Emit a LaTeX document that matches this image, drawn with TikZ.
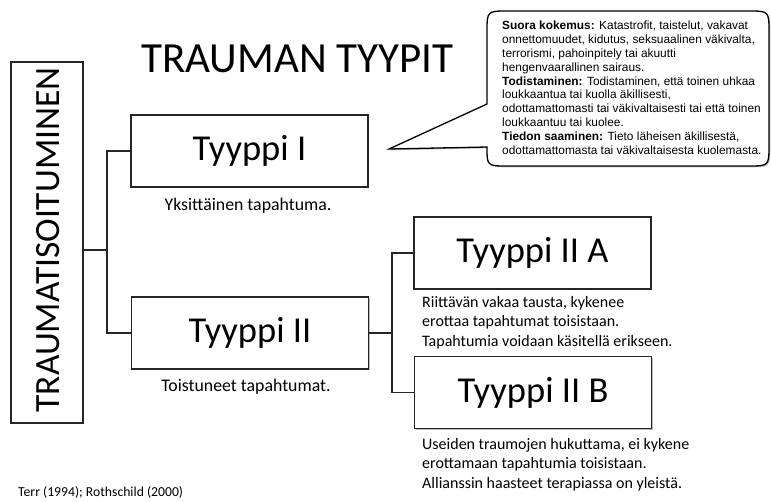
\documentclass[tikz,border=0pt]{standalone}
\usepackage{fontspec}
\setmainfont{Carlito}
\newfontfamily\calloutfont{Liberation Sans}
\usetikzlibrary{shadows}
\tikzset{
  typebox/.style={draw=black!85, line width=1.2pt, fill=white, inner sep=0pt,
    minimum width=237pt, minimum height=72pt, font=\fontsize{36.5}{40}\selectfont,
    drop shadow={shadow xshift=1.3pt, shadow yshift=-1.3pt, fill=black!45, opacity=0.6}},
  note/.style={inner sep=0pt, font=\fontsize{16}{19.5}\selectfont, align=left},
  bignote/.style={inner sep=0pt, font=\fontsize{17.8}{20}\selectfont},
  conn/.style={draw=black!85, line width=1.1pt},
}
\begin{document}
\begin{tikzpicture}[x=1pt,y=-1pt]
\useasboundingbox[fill=white] (0,0) rectangle (771,501);
% title
\node[anchor=west, inner sep=0pt, font=\fontsize{43}{46}\selectfont] (title) at (141,59) {TRAUMAN TYYPIT};
% left vertical box
\node[draw=black!85, line width=1.2pt, fill=white, inner sep=0pt, minimum width=72pt, minimum height=361pt,
  drop shadow={shadow xshift=1.3pt, shadow yshift=-1.3pt, fill=black!45, opacity=0.6}] (trauma) at (47,242.5) {};
\node[rotate=90, inner sep=0pt, font=\fontsize{35.5}{38}\selectfont] (traumatext) at (48,240) {TRAUMATISOITUMINEN};
% type boxes
\node[typebox] (t1) at (249.5,151) {Tyyppi I};
\node[typebox] (t2) at (250,333) {Tyyppi II};
\node[typebox] (t2a) at (532.5,253) {Tyyppi II A};
\node[typebox] (t2b) at (533,392.5) {Tyyppi II B};
% connectors
\coordinate (j1) at (107,250);
\coordinate (j2) at (392,333);
\draw[conn] (trauma.east |- j1) -- (j1);
\draw[conn] (t1.west) -- (t1.west -| j1) -- (t2.west -| j1) -- (t2.west);
\draw[conn] (t2.east) -- (j2);
\draw[conn] (t2a.west) -- (t2a.west -| j2) -- (t2b.west -| j2) -- (t2b.west);
% notes
\node[bignote] (n1) at (248,206) {Yksittäinen tapahtuma.};
\node[bignote] (n2) at (246,387) {Toistuneet tapahtumat.};
\node[note, anchor=north west] (n2a) at (422,296) {Riittävän vakaa tausta, kykenee\\erottaa tapahtumat toisistaan.\\Tapahtumia voidaan käsitellä erikseen.};
\node[note, anchor=north west] (n2b) at (422,438) {Useiden traumojen hukuttama, ei kykene\\erottamaan tapahtumia toisistaan.\\Allianssin haasteet terapiassa on yleistä.};
\node[anchor=west, inner sep=0pt, font=\fontsize{13.7}{16}\selectfont] (ref) at (18,492) {Terr (1994); Rothschild (2000)};
% callout
\coordinate (tip) at (389,149);
\draw[line width=1.3pt, fill=white, drop shadow={shadow xshift=1.3pt, shadow yshift=-1.3pt, fill=black!45, opacity=0.6}]
  (487,104) -- (487,32) .. controls (487,11) .. (508,11) -- (748,11) .. controls (769,11) .. (769,32)
  -- (769,145) .. controls (769,166) .. (748,166) -- (508,166) .. controls (487,166) .. (487,147)
  -- (tip) -- cycle;
\node[anchor=north west, inner sep=0pt, align=left, font=\calloutfont\fontsize{11.9}{13.8}\selectfont] (callout) at (502,21)
{\textbf{Suora kokemus:} Katastrofit, taistelut, vakavat\\
onnettomuudet, kidutus, seksuaalinen väkivalta,\\
terrorismi, pahoinpitely tai akuutti\\
hengenvaarallinen sairaus.\\
\textbf{Todistaminen:} Todistaminen, että toinen uhkaa\\
loukkaantua tai kuolla äkillisesti,\\
odottamattomasti tai väkivaltaisesti tai että toinen\\
loukkaantuu tai kuolee.\\
\textbf{Tiedon saaminen:} Tieto läheisen äkillisestä,\\
odottamattomasta tai väkivaltaisesta kuolemasta.};
\end{tikzpicture}
\end{document}
